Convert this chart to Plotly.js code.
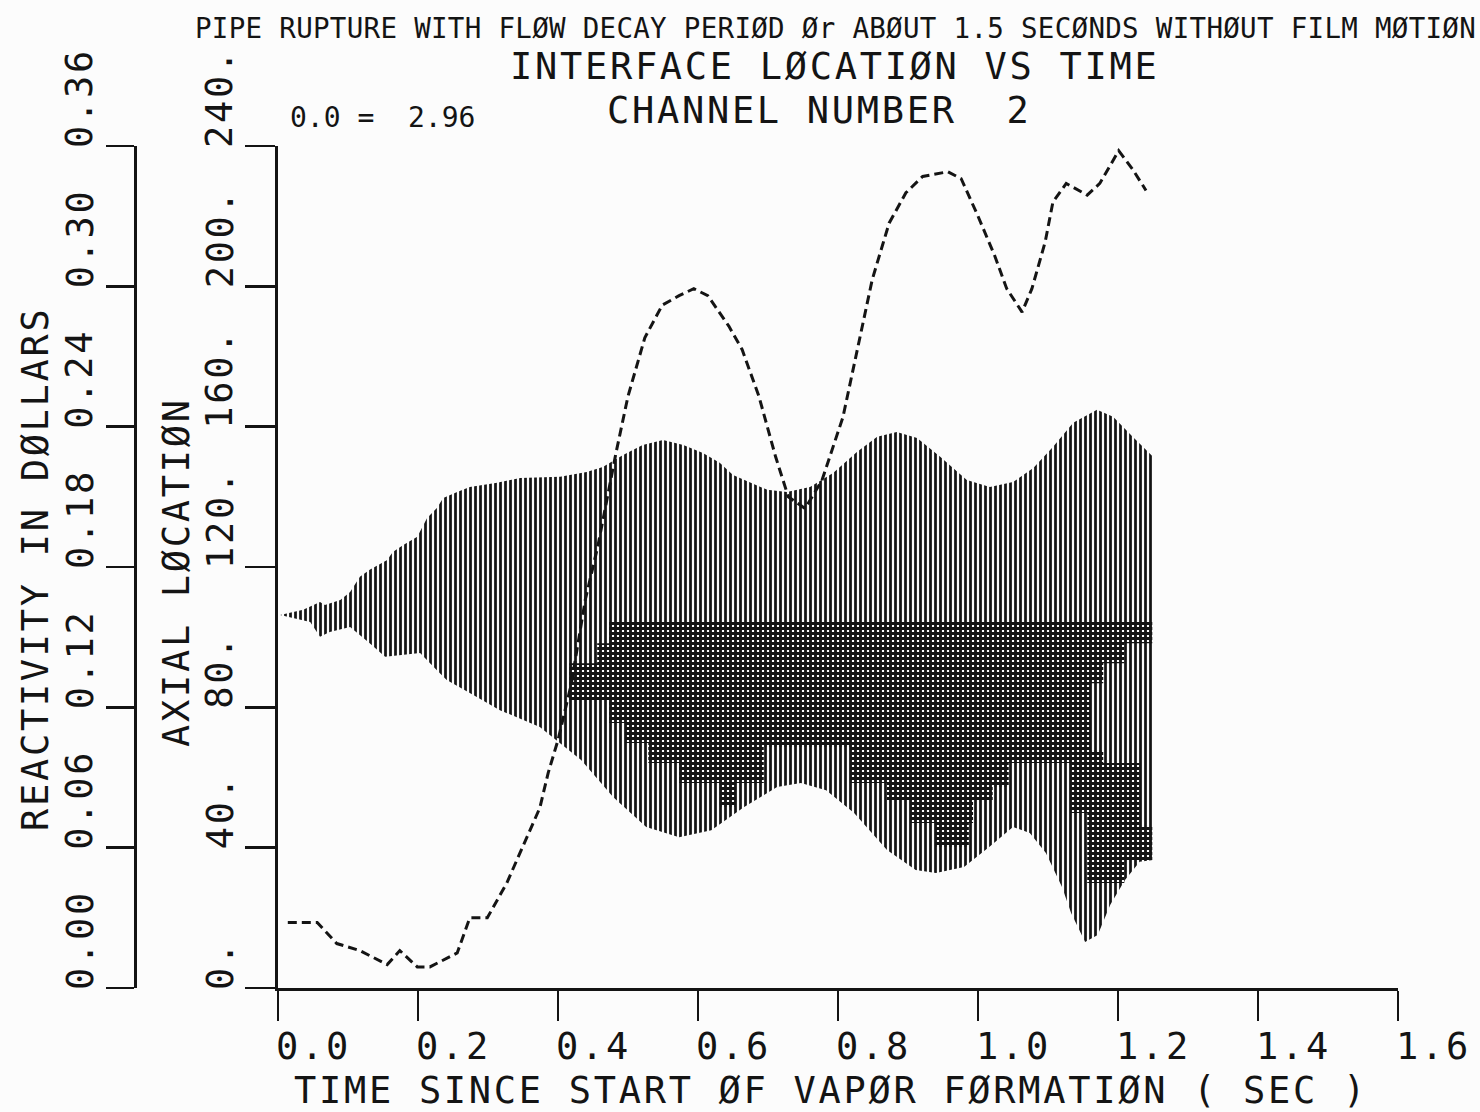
<!DOCTYPE html>
<html>
<head>
<meta charset="utf-8">
<script src="https://cdn.plot.ly/plotly-3.0.1.min.js"></script>
<style>
  html, body { margin: 0; padding: 0; background: #fcfcfc; }
  #chart { width: 1480px; height: 1112px; }
</style>
</head>
<body>
<div id="chart"></div>
<script>
// ---- Reactivity history (dollars) vs time since start of vapor formation (s)
const reactTime = [0.014,0.056,0.084,0.117,0.156,0.174,0.199,0.217,0.256,0.274,
  0.299,0.327,0.374,0.386,0.400,0.419,0.439,0.457,0.483,0.500,
  0.524,0.549,0.573,0.594,0.614,0.644,0.663,0.687,0.711,0.729,
  0.753,0.777,0.807,0.831,0.849,0.873,0.897,0.921,0.957,0.976,
  1.000,1.024,1.041,1.063,1.077,1.096,1.107,1.126,1.156,1.174,
  1.201,1.221,1.240];
const reactivity = [0.028,0.028,0.019,0.016,0.010,0.016,0.009,0.009,0.015,0.030,
  0.030,0.045,0.077,0.092,0.106,0.130,0.166,0.189,0.229,0.253,
  0.278,0.292,0.296,0.299,0.296,0.283,0.273,0.253,0.227,0.210,
  0.205,0.217,0.244,0.278,0.303,0.327,0.340,0.347,0.349,0.346,
  0.330,0.313,0.299,0.289,0.299,0.319,0.336,0.344,0.339,0.344,
  0.358,0.350,0.341];

// ---- Vapor region: upper interface location (axial units)
const upperTime = [0.003,0.036,0.060,0.067,0.089,0.103,0.117,0.131,0.156,0.164,
  0.179,0.199,0.213,0.227,0.236,0.256,0.274,0.313,0.346,0.403,
  0.441,0.464,0.493,0.521,0.550,0.579,0.607,0.631,0.650,0.699,
  0.727,0.760,0.793,0.827,0.856,0.884,0.913,0.946,0.984,1.017,
  1.050,1.079,1.107,1.136,1.170,1.193,1.221,1.250];
const upperLoc = [106.3,107.8,110.0,109.2,110.6,112.9,117.2,119.2,122.0,124.3,
  126.3,128.6,134.0,136.8,139.7,141.4,142.8,144.0,145.4,145.7,
  147.1,148.5,151.9,154.8,156.2,154.8,152.5,149.7,146.2,142.0,
  141.4,142.8,146.8,152.8,157.1,158.5,156.8,151.4,144.8,142.8,
  144.2,148.2,154.2,161.1,164.8,162.8,157.1,151.4];

// ---- Vapor region: lower interface location (axial units)
const lowerTime = [0.003,0.046,0.060,0.074,0.103,0.131,0.153,0.203,0.227,0.241,
  0.274,0.317,0.374,0.433,0.479,0.526,0.573,0.619,0.666,0.713,
  0.747,0.783,0.823,0.870,0.911,0.940,0.980,1.016,1.050,1.074,
  1.097,1.120,1.133,1.153,1.171,1.189,1.210,1.231,1.250];
const lowerLoc = [106.3,104.3,100.1,101.5,102.9,98.3,94.4,95.5,90.6,87.8,
  84.1,79.2,74.4,65.0,54.4,45.9,43.0,45.0,51.6,57.3,
  58.4,56.4,49.9,39.3,33.6,32.8,34.5,40.2,45.9,44.2,
  38.5,28.8,21.4,13.1,15.1,23.7,30.8,36.0,36.5];

// ---- Dried-out zone outline (time, axial location)
const dryTime = [0.416,0.456,0.456,0.473,0.473,1.249,1.249,1.209,1.209,1.179,
  1.179,1.161,1.161,1.179,1.179,1.231,1.231,1.249,1.249,1.209,
  1.209,1.156,1.156,1.133,1.133,1.044,1.044,1.021,1.021,0.993,
  0.993,0.987,0.987,0.940,0.940,0.904,0.904,0.870,0.870,0.817,
  0.817,0.694,0.694,0.654,0.654,0.631,0.631,0.573,0.573,0.529,
  0.529,0.497,0.497,0.473,0.473,0.416,0.416];
const dryLoc = [92.6,92.6,98.3,98.3,104.3,104.3,98.3,98.3,92.6,92.6,
  86.9,86.9,67.8,67.8,64.1,64.1,45.9,45.9,36.5,36.5,
  29.9,29.9,49.9,49.9,64.1,64.1,57.3,57.3,53.6,53.6,
  47.0,47.0,40.2,40.2,47.0,47.0,53.6,53.6,58.4,58.4,
  68.7,68.7,58.4,58.4,51.6,51.6,58.4,58.4,64.1,64.1,
  69.8,69.8,75.5,75.5,82.1,82.1,92.6];

// ---- Axis ticks
const timeTicks = [0, 0.2, 0.4, 0.6, 0.8, 1.0, 1.2, 1.4, 1.6];
const timeTickText = ['0.0','0.2','0.4','0.6','0.8','1.0','1.2','1.4','1.6'];
const locTicks = [0, 40, 80, 120, 160, 200, 240];
const locTickText = ['0.','40.','80.','120.','160.','200.','240.'];
const reactTicks = [0, 0.06, 0.12, 0.18, 0.24, 0.30, 0.36];
const reactTickText = ['0.00','0.06','0.12','0.18','0.24','0.30','0.36'];

// ---- Page geometry helpers (pixels -> paper fraction)
const W = 1480, H = 1112;
const px = x => x / W;
const py = y => 1 - y / H;
const INK = '#141414';
const FONT = 'DejaVu Sans Mono';
const BIG = 37;          // large plotter lettering
const SMALL = 27.5;      // small plotter lettering
// plotter characters sit on a wide pitch: open up the spacing of the text
const spaced = (s, gap) => '<span style="letter-spacing:' + gap + 'px">' + s + '</span>';
const wide = s => spaced(s, 2.7);

// closed outline of the vapor region: upper edge left->right, lower edge back
const regionT = upperTime.concat(lowerTime.slice().reverse());
const regionV = upperLoc.concat(lowerLoc.slice().reverse());

const traces = [
  {
    x: regionT, y: regionV, xaxis: 'x', yaxis: 'y',
    type: 'scatter', mode: 'none', fill: 'toself',
    fillcolor: 'rgba(0,0,0,0)',
    fillpattern: { shape: '|', size: 5, solidity: 0.55, fgcolor: INK, bgcolor: 'rgba(0,0,0,0)' },
    hoverinfo: 'skip', showlegend: false
  },
  {
    x: dryTime, y: dryLoc, xaxis: 'x', yaxis: 'y',
    type: 'scatter', mode: 'none', fill: 'toself',
    fillcolor: 'rgba(0,0,0,0)',
    fillpattern: { shape: '+', size: 5, solidity: 0.82, fgcolor: INK, bgcolor: '#fcfcfc' },
    hoverinfo: 'skip', showlegend: false
  },
  {
    x: reactTime, y: reactivity, xaxis: 'x', yaxis: 'y2',
    type: 'scatter', mode: 'lines',
    line: { color: INK, width: 3, dash: '9px,5px' },
    hoverinfo: 'skip', showlegend: false
  }
];

const annotations = [];
function addText(text, x, y, opts) {
  annotations.push(Object.assign({
    text: text, x: x, y: y, xref: 'paper', yref: 'paper',
    showarrow: false, font: { family: FONT, size: BIG, color: INK },
    borderpad: 0
  }, opts || {}));
}

// titles
addText(spaced('PIPE RUPTURE WITH FLØW DECAY PERIØD Ør ABØUT 1.5 SECØNDS WITHØUT FILM MØTIØN', 0.3),
  px(194), py(28), { xanchor: 'left', yanchor: 'middle', font: { family: FONT, size: SMALL, color: INK } });
addText(wide('INTERFACE LØCATIØN VS TIME'), px(509), py(67), { xanchor: 'left', yanchor: 'middle' });
addText(wide('CHANNEL NUMBER \u00a02'), px(606), py(110), { xanchor: 'left', yanchor: 'middle' });
addText('0.0 = \u00a02.96', px(289), py(117), { xanchor: 'left', yanchor: 'middle', font: { family: FONT, size: 28, color: INK } });

// axis titles
addText(wide('TIME SINCE START ØF VAPØR FØRMATIØN ( SEC )'), px(831), py(1090), { xanchor: 'center', yanchor: 'middle' });
addText(wide('REACTIVITY IN DØLLARS'), px(35), py(569), { xanchor: 'center', yanchor: 'middle', textangle: -90 });
addText(wide('AXIAL LØCATIØN'), px(176), py(572), { xanchor: 'center', yanchor: 'middle', textangle: -90 });

// tick labels: each label starts at its tick
timeTicks.forEach((v, i) => {
  annotations.push({ text: wide(timeTickText[i]), x: v, xref: 'x', y: py(1046), yref: 'paper',
    xanchor: 'left', yanchor: 'middle', xshift: -3, showarrow: false, borderpad: 0,
    font: { family: FONT, size: BIG, color: INK } });
});
locTicks.forEach((v, i) => {
  annotations.push({ text: wide(locTickText[i]), x: px(220), xref: 'paper', y: v, yref: 'y',
    xanchor: 'center', yanchor: 'bottom', yshift: -3, textangle: -90, showarrow: false, borderpad: 0,
    font: { family: FONT, size: BIG, color: INK } });
});
reactTicks.forEach((v, i) => {
  annotations.push({ text: wide(reactTickText[i]), x: px(80), xref: 'paper', y: v, yref: 'y2',
    xanchor: 'center', yanchor: 'bottom', yshift: -3, textangle: -90, showarrow: false, borderpad: 0,
    font: { family: FONT, size: BIG, color: INK } });
});

const axisCommon = {
  showgrid: false, zeroline: false, showline: true, linecolor: INK, linewidth: 2.8,
  ticks: 'outside', tickcolor: INK, tickwidth: 2.8, showticklabels: false, fixedrange: true
};

const layout = {
  width: W, height: H,
  margin: { l: 0, r: 0, t: 0, b: 0, pad: 0 },
  paper_bgcolor: '#fcfcfc', plot_bgcolor: 'rgba(0,0,0,0)',
  showlegend: false,
  xaxis: Object.assign({}, axisCommon, {
    domain: [px(278), px(1398)], range: [0, 1.6], tickvals: timeTicks,
    ticklen: 30, anchor: 'y'
  }),
  yaxis: Object.assign({}, axisCommon, {
    domain: [py(988), py(146)], range: [0, 240], tickvals: locTicks,
    ticklen: 30, anchor: 'x'
  }),
  yaxis2: Object.assign({}, axisCommon, {
    overlaying: 'y', anchor: 'free', position: px(135), side: 'left',
    range: [0, 0.36], tickvals: reactTicks, ticklen: 28
  }),
  annotations: annotations
};

Plotly.newPlot('chart', traces, layout, { staticPlot: true, displayModeBar: false });
</script>
</body>
</html>
